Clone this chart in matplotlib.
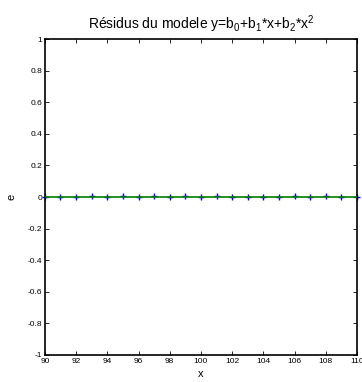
import matplotlib
matplotlib.use("Agg")
import matplotlib.pyplot as plt
import numpy as np

x = list(range(90, 111))
residuals = [0.0, 0.0, 0.0, 0.006, 0.0, 0.006, 0.0, 0.006, 0.0, 0.006,
             0.0, 0.006, 0.0, 0.0, 0.0, 0.0, 0.006, 0.0, 0.006, 0.0, 0.003]
xticks = list(range(90, 111, 2))
yticks = [-1, -0.8, -0.6, -0.4, -0.2, 0, 0.2, 0.4, 0.6, 0.8, 1]
yticklabels = ["-1", "-0.8", "-0.6", "-0.4", "-0.2", "0", "0.2", "0.4", "0.6", "0.8", "1"]

plt.rcParams['font.family'] = ['Liberation Sans', 'DejaVu Sans']
plt.rcParams['mathtext.fontset'] = 'custom'
plt.rcParams['mathtext.rm'] = 'Liberation Sans'
plt.rcParams['mathtext.it'] = 'Liberation Sans'

fig = plt.figure(figsize=(3.62, 3.82), dpi=100)
ax = fig.add_axes([0.124, 0.0707, 0.862, 0.827])
ax.plot(x, residuals, linestyle='none', marker='+', color='blue', ms=4.5, mew=1, zorder=2, clip_on=False)
ax.plot([x[0], x[-1]], [0, 0], color='#008000', lw=1.2, zorder=3)
ax.set_xlim(90, 110)
ax.set_ylim(-1, 1)
ax.set_xticks(xticks)
ax.set_xticklabels([str(v) for v in xticks])
ax.set_yticks(yticks)
ax.set_yticklabels(yticklabels)
ax.tick_params(direction='in', length=3, width=0.6, labelsize=6, top=True, right=True, pad=2)
for s in ax.spines.values():
    s.set_linewidth(1.2)
ax.set_xlabel('x', fontsize=8, labelpad=3)
ax.set_ylabel('e', fontsize=8, labelpad=8)
ax.set_title(r'Résidus du modele y=b$_0$+b$_1$*x+b$_2$*x$^2$', fontsize=10, pad=7)
fig.savefig('out.png', dpi=100)
